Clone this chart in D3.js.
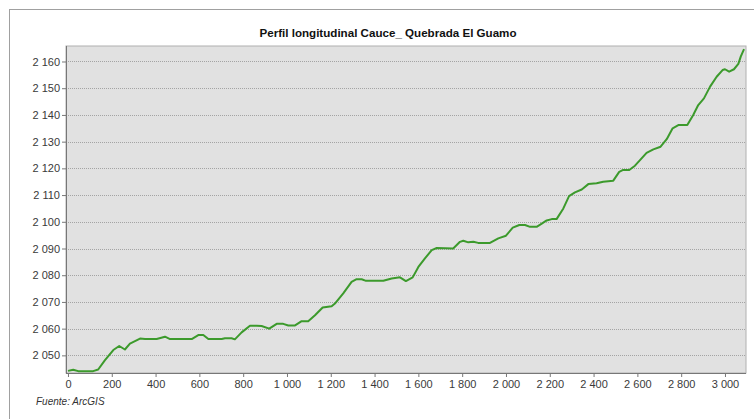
<!DOCTYPE html>
<html>
<head>
<meta charset="utf-8">
<script src="https://cdn.jsdelivr.net/npm/d3@7"></script>
<style>
  body { margin: 0; background: #fff; }
  svg { display: block; font-family: "Liberation Sans", Arial, sans-serif; }
  .grid line { stroke: #a4a4a4; stroke-dasharray: 1 1; }
  .axis text { fill: #3a3a3a; font-size: 11px; }
  .axis path, .axis line { stroke: #777; }
</style>
</head>
<body>
<svg id="chart" width="754" height="419"></svg>
<script>
// perfil longitudinal: distancia (m) y cota (m.s.n.m.)
const distancia = [0, 24, 47, 115, 138, 169, 207, 234, 260, 283, 329, 352, 405, 443, 466, 565, 595, 618, 641, 702, 717, 747, 762, 793, 831, 862,
  884, 919, 953, 983, 1006, 1037, 1067, 1097, 1128, 1163, 1204, 1219, 1257, 1295, 1318, 1341, 1361, 1440, 1478, 1516, 1543, 1574,
  1600, 1630, 1661, 1684, 1759, 1790, 1805, 1828, 1851, 1873, 1927, 1965, 2000, 2031, 2061, 2087, 2110, 2140, 2158, 2186, 2209, 2231,
  2262, 2288, 2315, 2346, 2376, 2414, 2444, 2490, 2517, 2535, 2563, 2589, 2612, 2642, 2673, 2706, 2734, 2761, 2787, 2828, 2855, 2878,
  2904, 2932, 2962, 2989, 3000, 3019, 3041, 3061, 3072, 3087];
const cota = [2044.2, 2044.6, 2044.1, 2044.1, 2044.7, 2048.2, 2052, 2053.5, 2052.2, 2054.4, 2056.3, 2056.1, 2056.1, 2057, 2056.1, 2056.1, 2057.6, 2057.6, 2056.1, 2056.1, 2056.4, 2056.4, 2056, 2058.6, 2061.1, 2061.1,
  2061, 2060, 2061.8, 2061.8, 2061.2, 2061.2, 2062.8, 2062.8, 2065, 2067.9, 2068.4, 2069.4, 2073.2, 2077.5, 2078.5, 2078.5, 2077.9, 2077.9, 2078.8, 2079.2, 2077.8, 2079.2,
  2083.1, 2086.3, 2089.4, 2090.2, 2090, 2092.5, 2092.9, 2092.3, 2092.5, 2092.1, 2092.1, 2093.8, 2094.8, 2097.8, 2098.8, 2098.8, 2098.1, 2098.1, 2099, 2100.5, 2101, 2101,
  2105, 2109.6, 2111, 2112.1, 2114.1, 2114.4, 2115, 2115.4, 2118.7, 2119.4, 2119.4, 2121, 2123.1, 2125.8, 2127.1, 2128.1, 2130.9, 2135, 2136.2, 2136.2, 2140, 2143.7,
  2146.2, 2150.6, 2154.3, 2156.8, 2157.1, 2156.2, 2157.1, 2159.1, 2161.8, 2164.6];
const xTicks = [0, 200, 400, 600, 800, 1000, 1200, 1400, 1600, 1800, 2000, 2200, 2400, 2600, 2800, 3000];
const yTicks = [2050, 2060, 2070, 2080, 2090, 2100, 2110, 2120, 2130, 2140, 2150, 2160];
const titulo = 'Perfil longitudinal Cauce_ Quebrada El Guamo';
const fuente = 'Fuente: ArcGIS';

const svg = d3.select('#chart');
const plot = {left: 66, top: 46, right: 746, bottom: 373};

const fmt = d3.formatLocale({decimal: ',', thousands: '\u00a0', grouping: [3], currency: ['', '']}).format(',d');

const x = d3.scaleLinear().domain([-9, 3096]).range([plot.left, plot.right]);
const y = d3.scaleLinear().domain([2043.4, 2165.8]).range([plot.bottom, plot.top]);

// marco exterior
svg.append('rect')
    .attr('x', 9.5).attr('y', 9.5)
    .attr('width', 760).attr('height', 420)
    .attr('fill', '#fff')
    .attr('stroke', '#a0a0a0');

svg.append('text')
    .attr('x', 388).attr('y', 37)
    .attr('text-anchor', 'middle')
    .attr('font-size', 11.6)
    .attr('font-weight', 'bold')
    .attr('fill', '#111')
    .text(titulo);

// area del grafico
svg.append('rect')
    .attr('x', plot.left).attr('y', plot.top)
    .attr('width', plot.right - plot.left).attr('height', plot.bottom - plot.top)
    .attr('fill', '#e1e1e1')
    .attr('stroke', '#b0b0b0');

svg.append('g')
    .attr('class', 'grid')
    .selectAll('line')
    .data(yTicks)
    .join('line')
    .attr('x1', plot.left).attr('x2', plot.right)
    .attr('y1', d => Math.round(y(d)) + 0.5)
    .attr('y2', d => Math.round(y(d)) + 0.5);

const yAxis = d3.axisLeft(y).tickValues(yTicks).tickFormat(fmt).tickSize(4).tickPadding(2);
svg.append('g')
    .attr('class', 'axis')
    .attr('transform', `translate(${plot.left},0)`)
    .call(yAxis)
    .call(g => g.select('.domain').attr('d', `M0.5,${plot.top}V${plot.bottom}`));

const xAxis = d3.axisBottom(x).tickValues(xTicks).tickFormat(fmt).tickSize(4).tickPadding(3);
svg.append('g')
    .attr('class', 'axis')
    .attr('transform', `translate(0,${plot.bottom})`)
    .call(xAxis)
    .call(g => g.select('.domain').attr('d', `M${plot.left},0.5H${plot.right}`));

const line = d3.line()
    .x((d, i) => x(distancia[i]))
    .y(d => y(d));

svg.append('path')
    .attr('d', line(cota))
    .attr('fill', 'none')
    .attr('stroke', '#3c9a2c')
    .attr('stroke-width', 2)
    .attr('stroke-linejoin', 'round');

svg.append('text')
    .attr('x', 36).attr('y', 405)
    .attr('font-size', 10)
    .attr('font-style', 'italic')
    .attr('fill', '#333')
    .text(fuente);
</script>
</body>
</html>
